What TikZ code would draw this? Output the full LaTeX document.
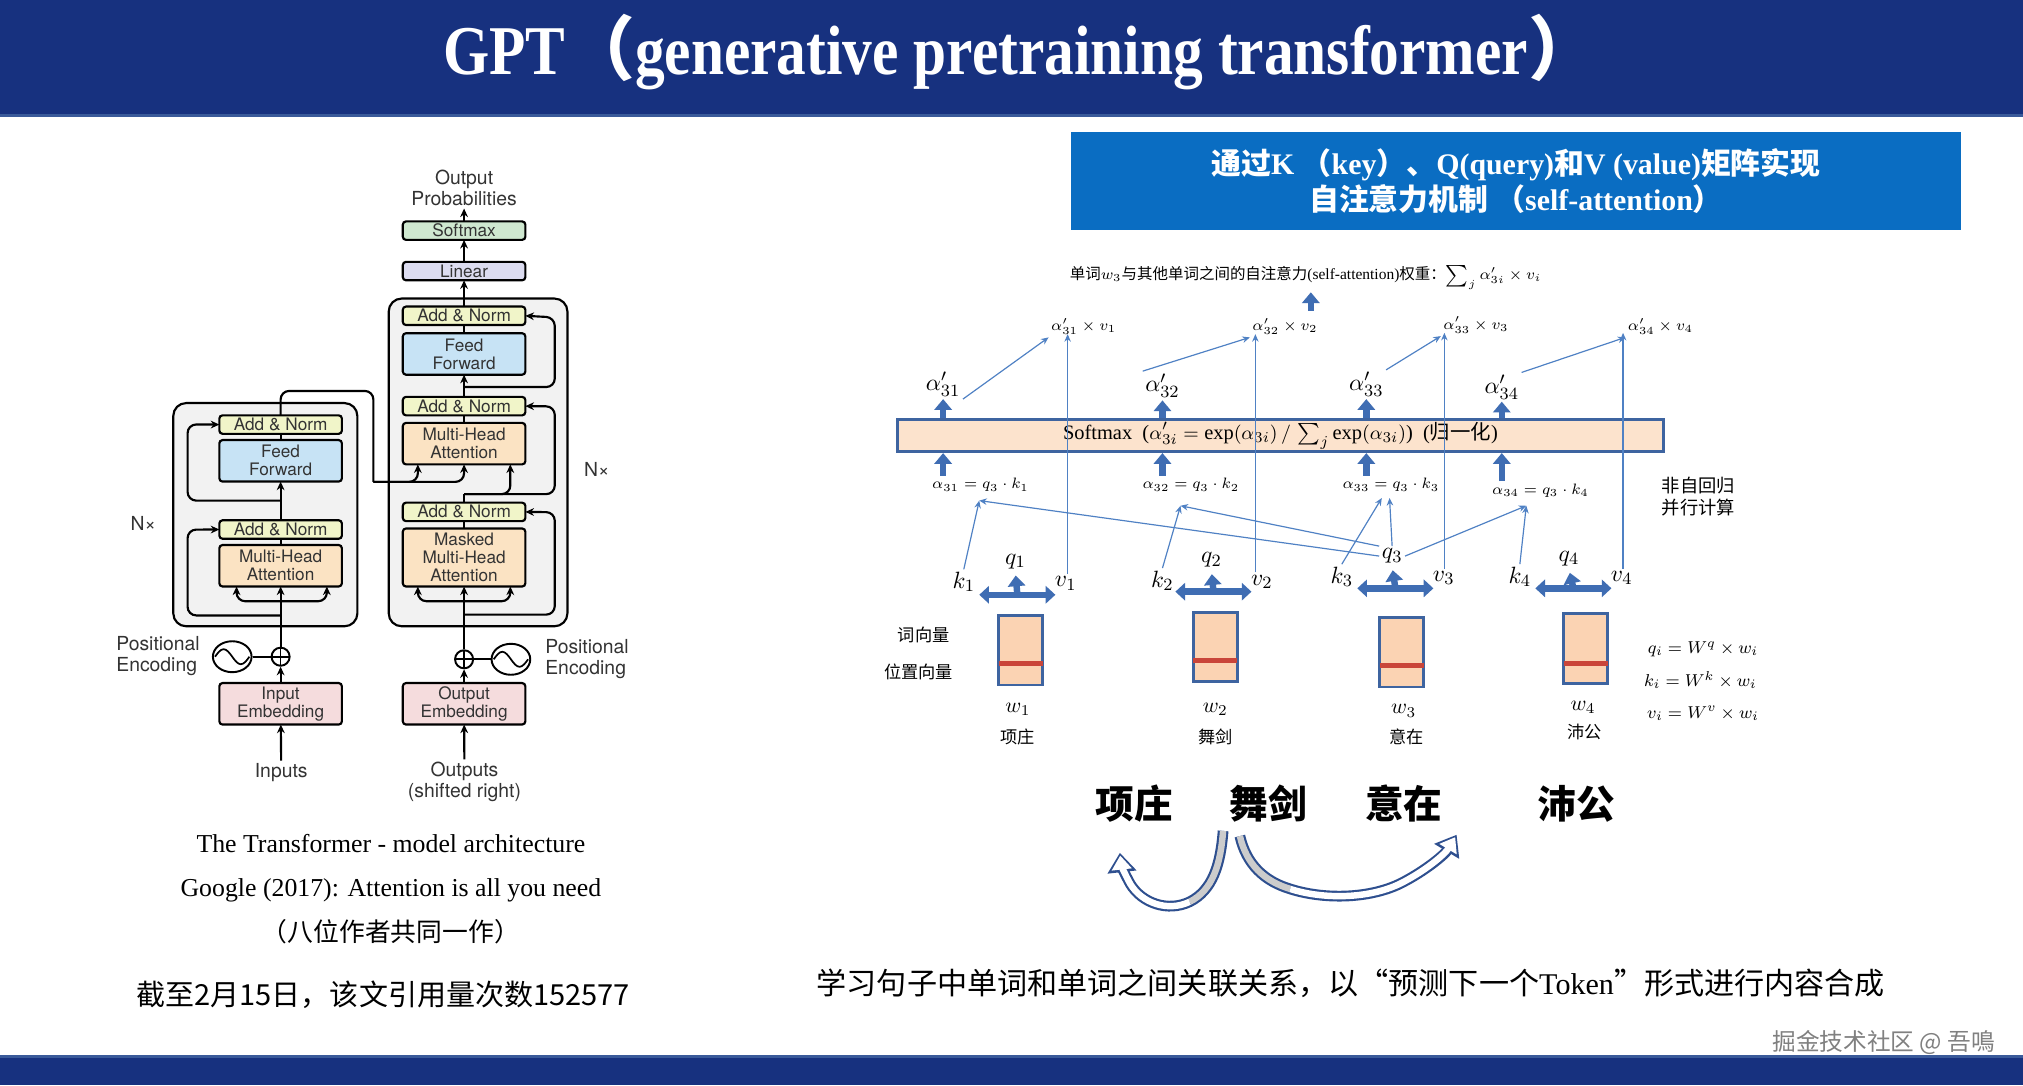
\documentclass[tikz,border=0pt]{standalone}
\usepackage{fontspec}
\setmainfont{Liberation Serif}
\setsansfont{TeX Gyre Heros}
\newfontfamily\cjk{Noto Sans CJK SC}
\newfontfamily\titlefont[FakeStretch=0.85]{Liberation Serif}
\usetikzlibrary{positioning, arrows.meta, calc, shapes.geometric}

\definecolor{bannerblue}{HTML}{17317F}
\definecolor{bannerline}{HTML}{3A5A9A}
\definecolor{headblue}{HTML}{0A6DC2}
\definecolor{fatblue}{HTML}{3F6DB3}
\definecolor{thinblue}{HTML}{4F81C4}
\definecolor{barfill}{HTML}{FCE3CD}
\definecolor{barline}{HTML}{3E64A0}
\definecolor{vecfill}{HTML}{FBD3B3}
\definecolor{vecred}{HTML}{C9453A}
\definecolor{normfill}{HTML}{F1F5C9}
\definecolor{fffill}{HTML}{C7E3F5}
\definecolor{attfill}{HTML}{FBE3C3}
\definecolor{embfill}{HTML}{F5DCDD}
\definecolor{linfill}{HTML}{DCDCF0}
\definecolor{smfill}{HTML}{CFE8D0}
\definecolor{layerfill}{HTML}{F2F2F2}
\definecolor{ribbonblue}{HTML}{2E4F8F}

\newcommand{\zh}[1]{{\cjk #1}}

\begin{document}
\begin{tikzpicture}[x=0.6pt, y=-0.6pt, >={Stealth[length=4pt,width=3.6pt]}]
		\tikzset{
			tfbox/.style={draw, line width=1pt, rounded corners=1.5pt, minimum width=57pt, inner sep=0pt, outer sep=0pt, align=center, text=black!80, font=\sffamily\fontsize{8}{8.4}\selectfont},
			normbox/.style={tfbox, fill=normfill, minimum height=8.6pt},
			ffbox/.style={tfbox, fill=fffill, minimum height=19.3pt},
			attbox/.style={tfbox, fill=attfill, minimum height=19.3pt},
			embbox/.style={tfbox, fill=embfill, minimum height=19.3pt},
			tftext/.style={align=center, inner sep=1pt, text=black!80, font=\sffamily\fontsize{9}{9.8}\selectfont},
			layerbox/.style={draw, line width=1pt, rounded corners=6pt, fill=layerfill},
			addcircle/.style={draw, circle, line width=0.9pt, minimum size=8.4pt, inner sep=0pt, fill=white,
				path picture={\draw[line width=0.8pt] (path picture bounding box.north) -- (path picture bounding box.south) (path picture bounding box.west) -- (path picture bounding box.east);}},
			posenc/.style={draw, ellipse, line width=0.9pt, minimum width=18pt, minimum height=14.4pt, inner sep=0pt, fill=white},
			res/.style={->, line width=1pt, rounded corners=4pt},
			fatarrow/.style={draw=fatblue, line width=3pt, -{Triangle[length=5pt,width=8pt]}},
			dblarrow/.style={draw=fatblue, line width=3pt, {Triangle[length=4.5pt,width=8pt]}-{Triangle[length=4.5pt,width=8pt]}},
			thinarrow/.style={draw=thinblue, line width=0.55pt, -{Stealth[length=3.5pt,width=3pt]}},
			vecbox/.style={draw=barline, line width=1.3pt, fill=vecfill, minimum width=20.4pt, minimum height=32.4pt, inner sep=0pt},
			mlabel/.style={inner sep=1pt, font=\fontsize{7}{8}\selectfont},
			biglabel/.style={inner sep=1pt, font=\fontsize{11}{12}\selectfont},
			wordlabel/.style={inner sep=1pt, font=\cjk\fontsize{8}{9}\selectfont},
			bigword/.style={inner sep=1pt, font=\cjk\bfseries\fontsize{18}{20}\selectfont},
			ribbonout/.style={draw=ribbonblue, line width=5pt, -{Triangle[length=9pt,width=13pt]}},
			ribbonin/.style={draw=white, line width=3pt, shorten >=1.3pt, -{Triangle[length=6.5pt,width=9pt]}}
		}
		\useasboundingbox (0,0) rectangle (1568,841);
		\fill[white] (0,0) rectangle (1568,841);
		
		% Banners
		\fill[bannerblue] (0,0) rectangle (1568,88);
		\fill[bannerline] (0,88) rectangle (1568,91);
		\fill[bannerblue] (0,820) rectangle (1568,841);
		\fill[bannerline] (0,818) rectangle (1568,820);
		\node[text=white, font=\titlefont\bfseries\fontsize{32.5}{35}\selectfont] (title) at (791,40) {GPT\zh{（}generative pretraining transformer\zh{）}};
		
		% Layer frames
		\draw[layerbox] (134.3,312.4) rectangle (277,485.4);
		\draw[layerbox] (301.3,231.4) rectangle (439.8,485.4);
		
		% Encoder
		\node[embbox] (inemb) at (217.5,545.5) {Input\\Embedding};
		\node[attbox] (encatt) at (217.5,438.5) {Multi-Head\\Attention};
		\node[normbox, above=2.9pt of encatt] (encnorm1) {Add \& Norm};
		\node[ffbox, above=18pt of encnorm1] (encff) {Feed\\Forward};
		\node[normbox, above=2.9pt of encff] (encnorm2) {Add \& Norm};
		\node[addcircle] (encplus) at (217.5,509) {};
		\node[posenc] (encpos) at (180,509) {};
		\node[tftext] (inputs) at (218,598.6) {Inputs};
		\node[tftext, align=left] (encposlabel) at (122.5,508.5) {Positional\\Encoding};
		\node[tftext] (encnx) at (111,405.7) {N×};
		
		% Decoder
		\node[embbox] (outemb) at (359.7,545.5) {Output\\Embedding};
		\node[attbox, minimum height=27pt] (decmask) at (359.7,432.1) {Masked\\Multi-Head\\Attention};
		\node[normbox, above=3.4pt of decmask] (decnorm1) {Add \& Norm};
		\node[attbox, above=17.8pt of decnorm1] (decatt) {Multi-Head\\Attention};
		\node[normbox, above=3.5pt of decatt] (decnorm2) {Add \& Norm};
		\node[ffbox, above=10.3pt of decnorm2] (decff) {Feed\\Forward};
		\node[normbox, above=3.8pt of decff] (decnorm3) {Add \& Norm};
		\node[tfbox, fill=linfill, minimum height=8.6pt, above=12.2pt of decnorm3] (linear) {Linear};
		\node[tfbox, fill=smfill, minimum height=8.6pt, above=10.2pt of linear] (softmax) {Softmax};
		\node[tftext, above=6pt of softmax] (outprob) {Output\\Probabilities};
		\node[addcircle] (decplus) at (359.7,511) {};
		\node[posenc] (decpos) at (396,511) {};
		\node[tftext] (outputs) at (360,606) {Outputs\\(shifted right)};
		\node[tftext, align=left] (decposlabel) at (455,510.7) {Positional\\Encoding};
		\node[tftext] (decnx) at (462.5,363.9) {N×};
		
		% Sine waves
		\foreach \p in {encpos, decpos}
			\draw[line width=0.8pt] ($(\p.center)+(-8pt,0pt)$) sin ++(4pt,3.5pt) cos ++(4pt,-3.5pt) sin ++(4pt,-3.5pt) cos ++(4pt,3.5pt);
		
		% Encoder connections
		\begin{scope}[line width=1pt]
			\draw[->] (inputs) -- (inemb);
			\draw[->] (inemb) -- (encplus);
			\draw (encpos) -- (encplus);
			\draw[->] (encplus) -- (encatt);
			\coordinate (encsplit) at (217.5,466);
			\draw[res] (encsplit) -| ([xshift=8pt]encatt.south west);
			\draw[res] (encsplit) -| ([xshift=-7pt]encatt.south east);
			\draw[res] (217.5,477) -| (145.4,410.5) -- (encnorm1.west);
			\draw (encatt) -- (encnorm1);
			\draw[->] (encnorm1) -- (encff);
			\draw[res] (217.5,388) -| (145.4,329) -- (encnorm2.west);
			\draw (encff) -- (encnorm2);
			\coordinate (encout) at (289.4,373.5);
			\draw[rounded corners=4pt] (encnorm2.north) |- (289.4,303) -- (encout);
			\draw[res] (encout) -| ([xshift=7pt]decatt.south west);
			\draw[res] (encout) -| (decatt.south);
			
			% Decoder connections
			\draw[->] (outputs) -- (outemb);
			\draw[->] (outemb) -- (decplus);
			\draw (decpos) -- (decplus);
			\draw[->] (decplus) -- (decmask);
			\coordinate (decsplit) at (359.7,466);
			\draw[res] (decsplit) -| ([xshift=7pt]decmask.south west);
			\draw[res] (decsplit) -| ([xshift=-7pt]decmask.south east);
			\draw[res] (359.7,476.4) -| (430,397) -- (decnorm1.east);
			\draw (decmask) -- (decnorm1);
			\coordinate (decmid) at (359.7,383);
			\draw (decnorm1.north) -- (decmid);
			\draw[res] (decmid) -| ([xshift=-7pt]decatt.south east);
			\draw[res] (decmid) -| (430,315) -- (decnorm2.east);
			\draw (decatt) -- (decnorm2);
			\draw[->] (decnorm2) -- (decff);
			\draw[res] (359.7,300) -| (430,246) -- (decnorm3.east);
			\draw (decff) -- (decnorm3);
			\draw[->] (decnorm3) -- (linear);
			\draw[->] (linear) -- (softmax);
			\draw[->] (softmax) -- (outprob);
		\end{scope}
		
		% Captions under the model
		\node[font=\fontsize{12}{14}\selectfont] (capmodel) at (303,654) {The Transformer - model architecture};
		\node[font=\fontsize{12}{14}\selectfont] (cappaper) at (303,690) {Google (2017): Attention is all you need};
		\node[font=\cjk\fontsize{12}{14}\selectfont] (capauthors) at (303,722) {（八位作者共同一作）};
		\node[font=\cjk\fontsize{13.5}{15}\selectfont] (capcite) at (297,771) {截至2月15日，该文引用量次数152577};
		
		% Attention header
		\node[fill=headblue, minimum width=414pt, minimum height=45.6pt, inner sep=0pt, text=white, align=center, font=\bfseries\fontsize{13.9}{16.8}\selectfont] (header) at (1175,140)
			{\zh{通过}K \zh{（}key\zh{）、}Q(query)\zh{和}V (value)\zh{矩阵实现}\\\zh{自注意力机制 （}self-attention\zh{）}};
		
		% Weighted sum
		\node[inner sep=1pt, font=\fontsize{7.2}{9}\selectfont] (wtitle) at (1012,215) {\zh{单词}$w_3$\zh{与其他单词之间的自注意力}(self-attention)\zh{权重：}$\sum_j \alpha'_{3i}\times v_i$};
		\coordinate (sumfoot) at (1016,241);
		\draw[fatarrow] (sumfoot) -- (wtitle.south -| sumfoot);
		
		\node[mlabel] (m1) at (840,253) {$\alpha'_{31}\times v_1$};
		\node[mlabel] (m2) at (996,253) {$\alpha'_{32}\times v_2$};
		\node[mlabel] (m3) at (1144,252) {$\alpha'_{33}\times v_3$};
		\node[mlabel] (m4) at (1287,253) {$\alpha'_{34}\times v_4$};
		
		\node[biglabel] (ap1) at (731,298) {$\alpha'_{31}$};
		\node[biglabel] (ap2) at (901,299) {$\alpha'_{32}$};
		\node[biglabel] (ap3) at (1059,298) {$\alpha'_{33}$};
		\node[biglabel] (ap4) at (1164,300) {$\alpha'_{34}$};
		
		\draw[thinarrow] (ap1.south east) -- (m1.south west);
		\draw[thinarrow] (ap2.north west) -- (m2.south west);
		\draw[thinarrow] (ap3.north east) -- (m3.south west);
		\draw[thinarrow] (ap4.north east) -- (m4.south west);
		
		% Softmax bar
		\node[draw=barline, line width=1.4pt, fill=barfill, minimum width=355.8pt, minimum height=15pt, inner sep=0pt, font=\fontsize{9.5}{11}\selectfont] (softbar) at (992.5,337.5)
			{Softmax\ \ ($\alpha'_{3i}=\exp(\alpha_{3i})\,/\,\textstyle\sum_j\exp(\alpha_{3i})$)\ \ (\zh{归一化})};
		
		\node[mlabel] (s1) at (760,376) {$\alpha_{31}=q_3\cdot k_1$};
		\node[mlabel] (s2) at (923,376) {$\alpha_{32}=q_3\cdot k_2$};
		\node[mlabel] (s3) at (1078,376) {$\alpha_{33}=q_3\cdot k_3$};
		\node[mlabel] (s4) at (1194,380) {$\alpha_{34}=q_3\cdot k_4$};
		
		\foreach \i in {1,...,4} {
			\draw[fatarrow] (softbar.north -| ap\i) -- (ap\i.south);
			\draw[fatarrow] (s\i.north -| ap\i) -- (softbar.south -| ap\i);
		}
		
		% Words and their vectors
		\node[biglabel] (k1) at (747,451) {$k_1$};
		\node[biglabel] (q1) at (787,435) {$q_1$};
		\node[biglabel] (v1) at (826,452) {$v_1$};
		\node[biglabel] (k2) at (901,450) {$k_2$};
		\node[biglabel] (q2) at (939,434) {$q_2$};
		\node[biglabel] (v2) at (978,451) {$v_2$};
		\node[biglabel] (k3) at (1040,447) {$k_3$};
		\node[biglabel] (q3) at (1079,431) {$q_3$};
		\node[biglabel] (v3) at (1119,448) {$v_3$};
		\node[biglabel] (k4) at (1178,447) {$k_4$};
		\node[biglabel] (q4) at (1216,433) {$q_4$};
		\node[biglabel] (v4) at (1257,448) {$v_4$};
		
		\coordinate (c1) at (788.5,461);
		\coordinate (c2) at (940.5,458.6);
		\coordinate (c3) at (1081.5,456);
		\coordinate (c4) at (1219.5,456);
		\foreach \i in {1,...,4} {
			\draw[dblarrow] ([xshift=-17.7pt]c\i) -- ([xshift=17.7pt]c\i);
			\draw[fatarrow, shorten >=2pt] (c\i) -- (q\i.south);
		}
		
		% value lines
		\coordinate (vt1) at (827.5,259);
		\coordinate (vt2) at (973,259);
		\coordinate (vt3) at (1119.5,258);
		\coordinate (vt4) at (1258,258);
		\foreach \i in {1,...,4}
			\draw[thinarrow] (v\i.north -| vt\i) -- (vt\i);
		
		% key and query lines
		\coordinate (t1) at (759,388);
		\coordinate (t2) at (915,392);
		\coordinate (t3) at (1071,386);
		\coordinate (t3b) at (1077,386);
		\coordinate (t4) at (1183,392);
		\draw[thinarrow] (k1.north) -- (t1);
		\draw[thinarrow] (q3.west) -- (t1);
		\draw[thinarrow] (k2.north) -- (t2);
		\draw[thinarrow] (q3.north west) -- (t2);
		\draw[thinarrow] (k3.north) -- (t3);
		\draw[thinarrow] (q3.north) -- (t3b);
		\draw[thinarrow] (q3.east) -- (t4);
		\draw[thinarrow] (k4.north) -- (t4);
		
		\node[vecbox] (vec1) at (791,504) {};
		\node[vecbox] (vec2) at (942,501.5) {};
		\node[vecbox] (vec3) at (1086.5,505.5) {};
		\node[vecbox] (vec4) at (1229,502.5) {};
		\draw[vecred, line width=2.2pt] ($(vec1.west)+(1,10)$) -- ($(vec1.east)+(-1,10)$);
		\draw[vecred, line width=2.2pt] ($(vec2.west)+(1,10.5)$) -- ($(vec2.east)+(-1,10.5)$);
		\draw[vecred, line width=2.2pt] ($(vec3.west)+(1,10.5)$) -- ($(vec3.east)+(-1,10.5)$);
		\draw[vecred, line width=2.2pt] ($(vec4.west)+(1,11.5)$) -- ($(vec4.east)+(-1,11.5)$);
		
		\node[wordlabel] (wordvec) at (716,492) {词向量};
		\node[wordlabel] (posvec) at (712,521) {位置向量};
		
		\node[inner sep=1pt, font=\fontsize{10}{11}\selectfont] (w1) at (789,550) {$w_1$};
		\node[inner sep=1pt, font=\fontsize{10}{11}\selectfont] (w2) at (942,550) {$w_2$};
		\node[inner sep=1pt, font=\fontsize{10}{11}\selectfont] (w3) at (1088,551) {$w_3$};
		\node[inner sep=1pt, font=\fontsize{10}{11}\selectfont] (w4) at (1227,548) {$w_4$};
		\node[wordlabel] (z1) at (789,571) {项庄};
		\node[wordlabel] (z2) at (942,571) {舞剑};
		\node[wordlabel] (z3) at (1090,571) {意在};
		\node[wordlabel] (z4) at (1228,567) {沛公};
		
		% Notes on the right
		\node[anchor=west, align=left, inner sep=1pt, font=\cjk\fontsize{8.5}{10}\selectfont] (nonauto) at (1286,385) {非自回归\\并行计算};
		\node[inner sep=1pt, font=\fontsize{8.5}{10}\selectfont] (eqq) at (1320,503) {$q_i = W^q\times w_i$};
		\node[inner sep=1pt, font=\fontsize{8.5}{10}\selectfont] (eqk) at (1318,527) {$k_i = W^k\times w_i$};
		\node[inner sep=1pt, font=\fontsize{8.5}{10}\selectfont] (eqv) at (1320,553) {$v_i = W^v\times w_i$};
		
		% Sentence
		\node[bigword] (b1) at (879,623) {项庄};
		\node[bigword] (b2) at (983,623) {舞剑};
		\node[bigword] (b3) at (1088,623) {意在};
		\node[bigword] (b4) at (1222,623) {沛公};
		
		% Ribbon arrows
		\draw[ribbonout] (948,644) .. controls (946,670) and (940,690) .. (922,699) .. controls (905,707) and (885,700) .. (876,685) .. controls (872,678) and (869,670) .. (868,661);
		\draw[draw=gray!40, line width=3pt] (948,644) .. controls (946,670) and (940,690) .. (922,699);
		\draw[ribbonin] (922,699) .. controls (905,707) and (885,700) .. (876,685) .. controls (872,678) and (869,670) .. (868,661);
		\draw[ribbonout] (961,648) .. controls (966,670) and (980,683) .. (1000,689) .. controls (1025,697) and (1060,697) .. (1085,685) .. controls (1105,675) and (1120,662) .. (1129,647);
		\draw[draw=gray!40, line width=3pt] (961,648) .. controls (966,670) and (980,683) .. (1000,689);
		\draw[ribbonin] (1000,689) .. controls (1025,697) and (1060,697) .. (1085,685) .. controls (1105,675) and (1120,662) .. (1129,647);
		
		\node[font=\cjk\fontsize{14}{16}\selectfont] (summary) at (1047,762) {学习句子中单词和单词之间关联关系，以“预测下一个{\rmfamily Token}”形式进行内容合成};
		
		\node[text=gray, font=\cjk\fontsize{11}{13}\selectfont] (source) at (1460,808) {掘金技术社区 @ 吾鳴};
		
	\end{tikzpicture}
\end{document}
